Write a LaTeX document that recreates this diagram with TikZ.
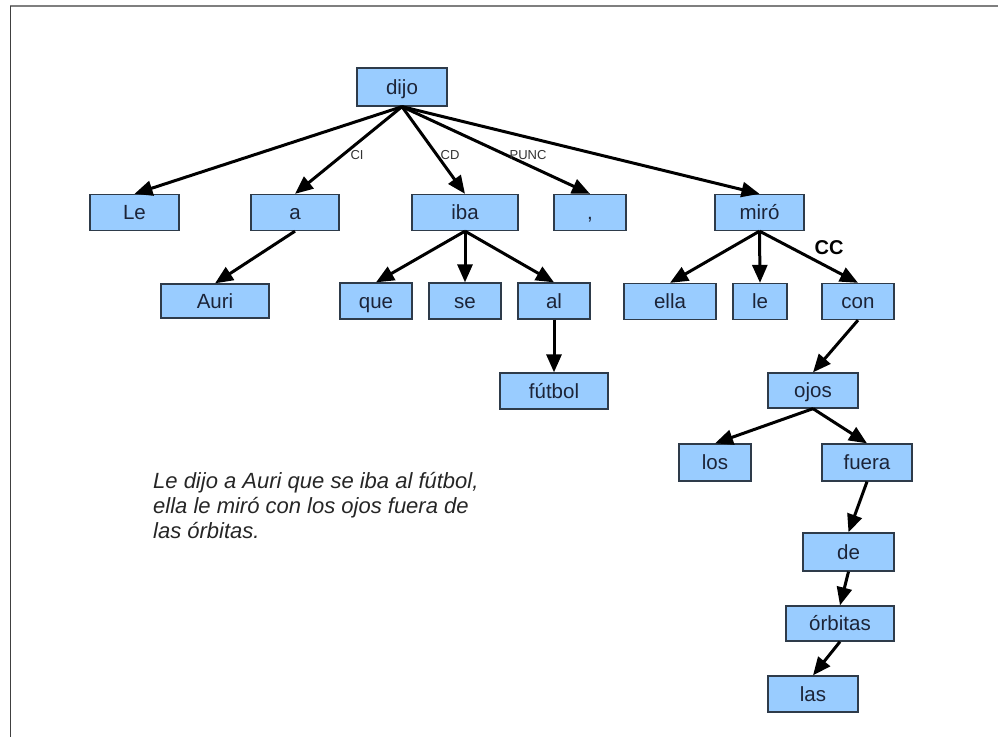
\documentclass[tikz,border=0pt]{standalone}
\usepackage{fontspec}
\setmainfont{Liberation Sans}
\usetikzlibrary{arrows.meta}
\definecolor{boxfill}{HTML}{99CCFF}
\definecolor{boxline}{HTML}{2E3B4A}
\definecolor{wordtext}{HTML}{1C2438}
\definecolor{frameline}{HTML}{7F7F7F}
\begin{document}
\begin{tikzpicture}[x=1pt,y=-1pt,
  word/.style={draw=boxline, fill=boxfill, line width=1.3pt, inner sep=0pt,
    minimum height=36pt, text height=17pt, text depth=3pt,
    text=wordtext, font=\fontsize{20.5}{24}\selectfont},
  dep/.style={-{Triangle[length=18pt,width=15pt]}, line width=3pt, black},
  rel/.style={font=\fontsize{13}{15}\selectfont, text=black!80},
  relbig/.style={font=\bfseries\fontsize{20}{24}\selectfont, text=black},
  sentence/.style={anchor=base west, inner sep=0pt, text=black!85,
    font=\itshape\fontsize{22}{25}\selectfont}]
\useasboundingbox (0,0) rectangle (998,737);
% page frame
\draw[frameline, line width=2.4pt] (10,6) -- (998,6);
\draw[black!75, line width=1pt] (10,6) -- (10,737);

% words
\node[word, minimum width=90pt, minimum height=38pt] (dijo) at (402,87) {dijo};
\node[word, minimum width=89pt] (Le)   at (134.5,212.5) {Le};
\node[word, minimum width=88pt] (a)    at (295,212.5) {a};
\node[word, minimum width=106pt] (iba) at (465,212.5) {iba};
\node[word, minimum width=72pt] (comma) at (590,212.5) {,};
\node[word, minimum width=89pt] (miro) at (759.5,212.5) {miró};
\node[word, minimum width=108pt, minimum height=34pt] (Auri) at (215,301) {Auri};
\node[word, minimum width=72pt] (que)  at (376,301) {que};
\node[word, minimum width=72pt] (se)   at (465,301) {se};
\node[word, minimum width=72pt] (al)   at (554,301) {al};
\node[word, minimum width=108pt] (futbol) at (554,391) {fútbol};
\node[word, minimum width=92pt] (ella) at (670,301.5) {ella};
\node[word, minimum width=54pt] (le)   at (760,301.5) {le};
\node[word, minimum width=72pt] (con)  at (858,301.5) {con};
\node[word, minimum width=90pt, minimum height=35pt] (ojos) at (813,390.5) {ojos};
\node[word, minimum width=72pt, minimum height=37pt] (los)  at (715,462.5) {los};
\node[word, minimum width=90pt, minimum height=37pt] (fuera) at (867,462.5) {fuera};
\node[word, minimum width=91pt, minimum height=38pt] (de) at (848.5,552) {de};
\node[word, minimum width=108pt, minimum height=35pt] (orbitas) at (840,623.5) {órbitas};
\node[word, minimum width=90pt] (las) at (813,694) {las};

% dependencies
\draw[dep] (dijo.south) -- (Le.north);
\draw[dep] (dijo.south) -- (a.north);
\draw[dep] (dijo.south) -- (iba.north);
\draw[dep] (dijo.south) -- (comma.north);
\draw[dep] (dijo.south) -- (miro.north);
\draw[dep] (a.south) -- (Auri.north);
\draw[dep] (iba.south) -- (que.north);
\draw[dep] (iba.south) -- (se.north);
\draw[dep] (iba.south) -- (al.north);
\draw[dep] (al.south) -- (futbol.north);
\draw[dep] (miro.south) -- (ella.north);
\draw[dep] (miro.south) -- (le.north);
\draw[dep] (miro.south) -- (con.north);
\draw[dep] (con.south) -- (ojos.north);
\draw[dep] (ojos.south) -- (los.north);
\draw[dep] (ojos.south) -- (fuera.north);
\draw[dep] (fuera.south) -- (de.north);
\draw[dep] (de.south) -- (orbitas.north);
\draw[dep] (orbitas.south) -- (las.north);

% relation labels
\node[rel] (lci) at (357,155) {CI};
\node[rel] (lcd) at (450,155) {CD};
\node[rel] (lpunc) at (528,155) {PUNC};
\node[relbig] (lcc) at (829,248) {CC};

% sentence, one node per line
\node[sentence] (sent1) at (153,488) {Le dijo a Auri que se iba al f\'utbol,};
\node[sentence] (sent2) at (153,513) {ella le mir\'o con los ojos fuera de};
\node[sentence] (sent3) at (153,538) {las \'orbitas.};
\end{tikzpicture}
\end{document}
